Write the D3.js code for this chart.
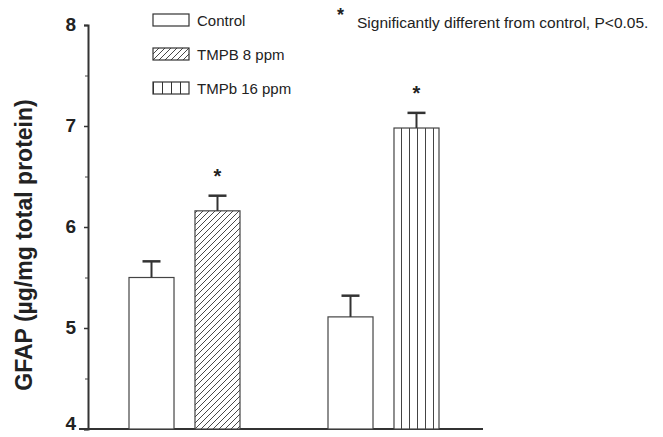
<!DOCTYPE html>
<html>
<head>
<meta charset="utf-8">
<script src="https://cdn.jsdelivr.net/npm/d3@7"></script>
<style>
  body { margin: 0; background: #fff; }
  text { font-family: Arial, "Liberation Sans", sans-serif; fill: #222; }
</style>
</head>
<body>
<div id="chart"></div>
<script>
// values
var groups = ["Group 1", "Group 2"];
var seriesNames = ["Control", "TMPB 8 ppm", "TMPb 16 ppm"];
var barGroup = ["Group 1", "Group 1", "Group 2", "Group 2"];
var barSlot = [0, 1, 0, 1];
var barSeries = ["Control", "TMPB 8 ppm", "Control", "TMPb 16 ppm"];
var barMeans = [5.50, 6.16, 5.11, 6.98];
var barErrors = [0.16, 0.15, 0.21, 0.15];
var barSignif = [false, true, false, true];
var yTicks = [4, 5, 6, 7, 8];
var yMinor = [4.5, 5.5, 6.5, 7.5];

var width = 663, height = 437;

var svg = d3.select("#chart").append("svg")
    .attr("width", width)
    .attr("height", height);

var defs = svg.append("defs");

var diag = defs.append("pattern")
    .attr("id", "diag")
    .attr("patternUnits", "userSpaceOnUse")
    .attr("width", 6)
    .attr("height", 6);
diag.append("rect").attr("width", 6).attr("height", 6).attr("fill", "#fff");
diag.append("path")
    .attr("d", "M-1,1 l2,-2 M0,6 l6,-6 M5,7 l2,-2")
    .attr("stroke", "#333")
    .attr("stroke-width", 0.9);

var vert = defs.append("pattern")
    .attr("id", "vert")
    .attr("patternUnits", "userSpaceOnUse")
    .attr("x", 393)
    .attr("width", 8)
    .attr("height", 8);
vert.append("rect").attr("width", 8).attr("height", 8).attr("fill", "#fff");
vert.append("line")
    .attr("x1", 0.5).attr("x2", 0.5).attr("y1", 0).attr("y2", 8)
    .attr("stroke", "#444")
    .attr("stroke-width", 1);

var vertLeg = defs.append("pattern")
    .attr("id", "vertLeg")
    .attr("patternUnits", "userSpaceOnUse")
    .attr("x", 153)
    .attr("width", 9)
    .attr("height", 9);
vertLeg.append("rect").attr("width", 9).attr("height", 9).attr("fill", "#fff");
vertLeg.append("line")
    .attr("x1", 0.5).attr("x2", 0.5).attr("y1", 0).attr("y2", 9)
    .attr("stroke", "#333")
    .attr("stroke-width", 1);

var fills = {"Control": "#fff", "TMPB 8 ppm": "url(#diag)", "TMPb 16 ppm": "url(#vert)"};
var legFills = {"Control": "#fff", "TMPB 8 ppm": "url(#diag)", "TMPb 16 ppm": "url(#vertLeg)"};

var y = d3.scaleLinear().domain([4, 8]).range([429, 25]);

var xGroup = d3.scaleBand().domain(groups).range([129, 527]).padding(0);
var xSlot = d3.scaleBand().domain([0, 1]).range([0, 111]).paddingInner(0.318).paddingOuter(0);

// axes
var yAxis = svg.append("g")
    .attr("transform", "translate(88,0)")
    .call(d3.axisLeft(y).tickValues(yTicks).tickSize(4).tickFormat(d3.format("d")));
yAxis.select(".domain").attr("stroke", "#333").attr("stroke-width", 2);
yAxis.selectAll(".tick line").attr("stroke", "#333").attr("stroke-width", 1.5);
yAxis.selectAll(".tick text")
    .attr("x", -12)
    .attr("dy", function(d) { return d === 4 ? "0em" : "0.3em"; })
    .style("font-size", "19px")
    .style("font-weight", "bold")
    .attr("fill", "#222");

svg.append("g")
    .attr("transform", "translate(88,0)")
    .call(d3.axisLeft(y).tickValues(yMinor).tickSize(3).tickFormat(""))
    .call(function(g) { g.select(".domain").remove(); })
    .selectAll(".tick line").attr("stroke", "#444");

svg.append("line")
    .attr("x1", 79).attr("x2", 483)
    .attr("y1", y(4)).attr("y2", y(4))
    .attr("stroke", "#333")
    .attr("stroke-width", 2);

svg.append("text")
    .attr("transform", "translate(32," + 245 + ") rotate(-90)")
    .attr("text-anchor", "middle")
    .style("font-size", "23px")
    .style("font-weight", "bold")
    .text("GFAP (\u00b5g/mg total protein)");

// bars
var bars = barMeans.map(function(m, i) {
  return {group: barGroup[i], slot: barSlot[i], series: barSeries[i], mean: m, err: barErrors[i], sig: barSignif[i]};
});

var barG = svg.append("g");
barG.selectAll("rect")
    .data(bars)
    .enter().append("rect")
    .attr("x", function(d) { return xGroup(d.group) + xSlot(d.slot); })
    .attr("width", xSlot.bandwidth())
    .attr("y", function(d) { return y(d.mean); })
    .attr("height", function(d) { return y(4) - y(d.mean); })
    .attr("fill", function(d) { return fills[d.series]; })
    .attr("stroke", "#444")
    .attr("stroke-width", 1.2);

var errG = svg.append("g").selectAll("g")
    .data(bars)
    .enter().append("g")
    .attr("transform", function(d) {
      return "translate(" + (xGroup(d.group) + xSlot(d.slot) + xSlot.bandwidth() / 2) + ",0)";
    });
errG.append("line")
    .attr("x1", 0).attr("x2", 0)
    .attr("y1", function(d) { return y(d.mean); })
    .attr("y2", function(d) { return y(d.mean + d.err); })
    .attr("stroke", "#333")
    .attr("stroke-width", 2);
errG.append("line")
    .attr("x1", -9).attr("x2", 9)
    .attr("y1", function(d) { return y(d.mean + d.err); })
    .attr("y2", function(d) { return y(d.mean + d.err); })
    .attr("stroke", "#333")
    .attr("stroke-width", 2.5);
errG.filter(function(d) { return d.sig; })
    .append("text")
    .attr("text-anchor", "middle")
    .attr("y", function(d) { return y(d.mean + d.err) - 13; })
    .style("font-size", "20px")
    .style("font-weight", "bold")
    .text("*");

// legend
var leg = svg.append("g").selectAll("g")
    .data(seriesNames)
    .enter().append("g")
    .attr("transform", function(d, i) { return "translate(153," + (14 + i * 34) + ")"; });
leg.append("rect")
    .attr("width", 36)
    .attr("height", 12)
    .attr("fill", function(d) { return legFills[d]; })
    .attr("stroke", "#333")
    .attr("stroke-width", 1.2);
leg.append("text")
    .attr("x", 44)
    .attr("y", 12)
    .style("font-size", "15px")
    .text(function(d) { return d; });

// footnote
svg.append("text")
    .attr("x", 337)
    .attr("y", 21)
    .style("font-size", "18px")
    .style("font-weight", "bold")
    .text("*");
svg.append("text")
    .attr("x", 357)
    .attr("y", 28)
    .style("font-size", "15.5px")
    .text("Significantly different from control, P<0.05.");
</script>
</body>
</html>
